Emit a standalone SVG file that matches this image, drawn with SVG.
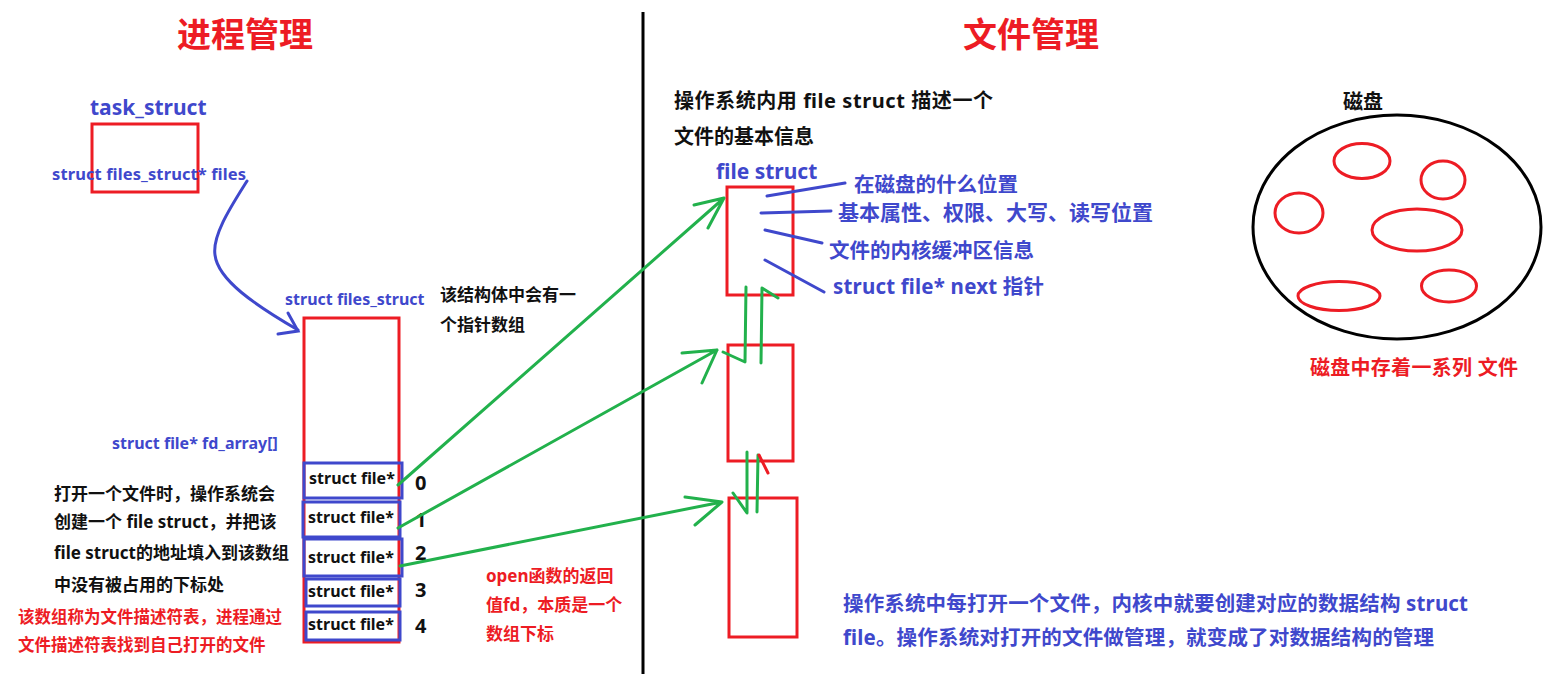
<svg xmlns="http://www.w3.org/2000/svg" width="1563" height="674" viewBox="0 0 1563 674">
<style>
text{font-family:"Noto Sans","Noto Sans CJK SC",sans-serif;font-weight:bold;}
.t{font-size:34px;fill:#ed1c24;}
.bl{fill:#3f48cc;}
.bk{fill:#111;}
.rd{fill:#ed1c24;}
.rbox{fill:none;stroke:#ed1c24;stroke-width:3;}
.bbox{fill:none;stroke:#3f48cc;stroke-width:3;}
.g{fill:none;stroke:#22b14c;stroke-width:3;stroke-linecap:round;stroke-linejoin:round;}
.b{fill:none;stroke:#3f48cc;stroke-width:3;stroke-linecap:round;}
</style>
<rect width="1563" height="674" fill="#fff"/>
<line x1="643" y1="12" x2="643" y2="674" stroke="#000" stroke-width="3"/>
<text class="t" x="177" y="47">进程管理</text>
<text class="t" x="963" y="47">文件管理</text>

<g id="task_struct">
<text class="bl" x="90" y="115" font-size="21">task_struct</text>
<rect class="rbox" x="92" y="124" width="106" height="68"/>
<text class="bl" x="52" y="180" font-size="16.5" textLength="194">struct files_struct* files</text>
</g>

<g id="files_struct">
<text class="bl" x="285" y="305" font-size="16">struct files_struct</text>
<text class="bk" x="440" y="301" font-size="17">该结构体中会有一</text>
<text class="bk" x="440" y="331" font-size="17">个指针数组</text>
<rect class="rbox" x="304" y="318" width="95" height="324"/>
<text class="bl" x="112" y="449" font-size="16">struct file* fd_array[]</text>
</g>

<g id="fd_slots">
<rect class="bbox" x="304" y="463" width="98" height="35"/>
<rect class="bbox" x="303" y="502" width="97" height="35" stroke-width="4"/>
<rect class="bbox" x="304" y="539" width="98" height="37" stroke-width="4"/>
<rect class="bbox" x="306" y="579" width="94" height="27"/>
<rect class="bbox" x="306" y="612" width="94" height="28"/>
<text class="bk" x="309" y="484" font-size="16">struct file*</text>
<text class="bk" x="308" y="523" font-size="16">struct file*</text>
<text class="bk" x="308" y="563" font-size="16">struct file*</text>
<text class="bk" x="308" y="597" font-size="16">struct file*</text>
<text class="bk" x="308" y="630" font-size="16">struct file*</text>
<text class="bk" x="415" y="490" font-size="20">0</text>
<text class="bk" x="415" y="527" font-size="20">1</text>
<text class="bk" x="415" y="560" font-size="20">2</text>
<text class="bk" x="415" y="597" font-size="20">3</text>
<text class="bk" x="415" y="633" font-size="20">4</text>
</g>

<g id="notes_left">
<text class="bk" x="54" y="500" font-size="17">打开一个文件时，操作系统会</text>
<text class="bk" x="54" y="528" font-size="17">创建一个 file struct，并把该</text>
<text class="bk" x="54" y="559" font-size="17">file struct的地址填入到该数组</text>
<text class="bk" x="54" y="591" font-size="17">中没有被占用的下标处</text>
<text class="rd" x="18" y="623" font-size="16.5">该数组称为文件描述符表，进程通过</text>
<text class="rd" x="18" y="651" font-size="16.5">文件描述符表找到自己打开的文件</text>
<text class="rd" x="486" y="582" font-size="17">open函数的返回</text>
<text class="rd" x="486" y="611" font-size="17">值fd，本质是一个</text>
<text class="rd" x="486" y="640" font-size="17">数组下标</text>
</g>

<g id="file_structs">
<text class="bk" x="674" y="108" font-size="20" textLength="319">操作系统内用 file struct 描述一个</text>
<text class="bk" x="674" y="144" font-size="20">文件的基本信息</text>
<text class="bl" x="716" y="179" font-size="21">file struct</text>
<rect class="rbox" x="727" y="187" width="66" height="108"/>
<rect class="rbox" x="728" y="345" width="65" height="116"/>
<rect class="rbox" x="729" y="498" width="68" height="139"/>
<text class="bl" x="854" y="192" font-size="20.5">在磁盘的什么位置</text>
<text class="bl" x="838" y="220" font-size="21">基本属性、权限、大写、读写位置</text>
<text class="bl" x="829" y="258" font-size="20.5">文件的内核缓冲区信息</text>
<text class="bl" x="833" y="294" font-size="20.5" textLength="211">struct file* next 指针</text>
</g>

<g id="disk">
<text class="bk" x="1343" y="109" font-size="20">磁盘</text>
<ellipse cx="1397" cy="227" rx="144" ry="112" fill="none" stroke="#000" stroke-width="3"/>
<ellipse cx="1362" cy="161" rx="28" ry="17.5" fill="none" stroke="#ed1c24" stroke-width="3"/>
<ellipse cx="1443" cy="180" rx="22" ry="19" fill="none" stroke="#ed1c24" stroke-width="3"/>
<ellipse cx="1299" cy="213" rx="24" ry="20" fill="none" stroke="#ed1c24" stroke-width="3"/>
<ellipse cx="1417" cy="230" rx="45" ry="21" fill="none" stroke="#ed1c24" stroke-width="3"/>
<ellipse cx="1339" cy="296" rx="41" ry="14.5" fill="none" stroke="#ed1c24" stroke-width="3"/>
<ellipse cx="1449" cy="286" rx="27.5" ry="16" fill="none" stroke="#ed1c24" stroke-width="3"/>
<text class="rd" x="1310" y="375" font-size="20" textLength="208">磁盘中存着一系列 文件</text>
</g>

<g id="summary">
<text class="bl" x="843" y="611" font-size="20.5" textLength="625">操作系统中每打开一个文件，内核中就要创建对应的数据结构 struct</text>
<text class="bl" x="843" y="645" font-size="20.5" textLength="591">file。操作系统对打开的文件做管理，就变成了对数据结构的管理</text>
</g>

<g id="connectors">
<path class="b" d="M247,181 C232,205 212,235 215,255 C218,280 255,305 298,330"/>
<path class="b" d="M288,313 L298,331 L278,334"/>
<path class="b" d="M767,196 L845,183 M761,213 L831,211 M765,230 L822,243 M765,260 L824,292"/>
<path class="g" d="M398,485 L724,198 M694,205 L724,198 L708,228"/>
<path class="g" d="M398,528 L717,350 M682,353 L717,350 L702,383"/>
<path class="g" d="M400,566 L722,502 M685,497 L722,502 L695,525"/>
<path class="g" d="M746,287 L745,362 L723,352"/>
<path class="g" d="M761,363 L762,288 L778,298"/>
<path class="g" d="M747,452 L747,513 L733,493"/>
<path class="g" d="M757,512 L758,455"/>
<path d="M759,455 L768,473" stroke="#ed1c24" stroke-width="3" stroke-linecap="round"/>
</g>
</svg>
